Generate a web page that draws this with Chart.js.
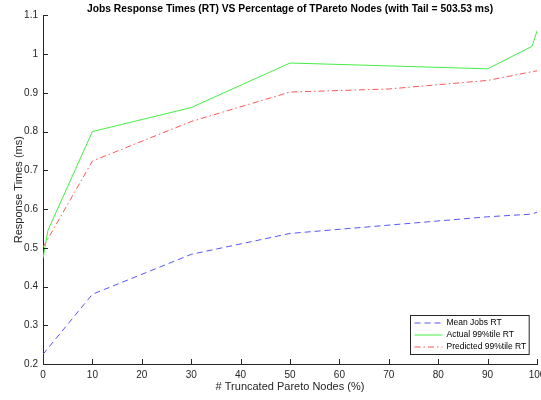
<!DOCTYPE html>
<html><head><meta charset="utf-8">
<script src="https://cdn.jsdelivr.net/npm/chart.js@4/dist/chart.umd.min.js"></script>
<style>html,body{margin:0;padding:0;background:#fff}#wrap{width:541px;height:400px;position:relative}</style>
</head><body><div id="wrap"><canvas id="c"></canvas></div>
<script>
// ---- data ----
const nodesPct      = [0,     1,     10,    30,    50,    70,    90,    99,    100];
const meanJobsRT    = [0.225, null,  0.380, 0.483, 0.537, null,  0.580, 0.587, 0.592];
const actual99RT    = [0.473, 0.545, 0.800, 0.862, 0.977, null,  0.962, 1.020, 1.060];
const predicted99RT = [0.501, null,  0.724, 0.826, 0.902, 0.910, 0.932, null,  0.957];
const seriesLabels  = ['Mean Jobs RT', 'Actual 99%tile RT', 'Predicted 99%tile RT'];
const xTicks = [0, 10, 20, 30, 40, 50, 60, 70, 80, 90, 100];
const yTicks = [0.2, 0.3, 0.4, 0.5, 0.6, 0.7, 0.8, 0.9, 1, 1.1];
const chartTitle = 'Jobs Response Times (RT) VS Percentage of TPareto Nodes (with Tail = 503.53 ms)';
const xTitle = '# Truncated Pareto Nodes (%)';
const yTitle = 'Response Times (ms)';

const FONT = '"Liberation Sans", Arial, Helvetica, sans-serif';
const AXIS = '#262626';
Chart.defaults.font.family = FONT;

function pts(arr) {
  return nodesPct.map((x, i) => ({x: x, y: arr[i]})).filter(p => p.y !== null);
}

const inwardTicks = {
  id: 'inwardTicks',
  afterDraw(chart) {
    const ctx = chart.ctx, a = chart.chartArea;
    const xs = chart.scales.x, ys = chart.scales.y;
    ctx.save();
    ctx.strokeStyle = AXIS; ctx.lineWidth = 1;
    ctx.beginPath();
    xTicks.forEach(v => { const px = Math.round(xs.getPixelForValue(v)) + 0.5; ctx.moveTo(px, a.bottom); ctx.lineTo(px, a.bottom - 5); });
    yTicks.forEach(v => { const py = Math.round(ys.getPixelForValue(v)) + 0.5; ctx.moveTo(a.left, py); ctx.lineTo(a.left + 5, py); });
    ctx.stroke();
    ctx.restore();
  }
};

const insideLegend = {
  id: 'insideLegend',
  afterDraw(chart) {
    const ctx = chart.ctx, a = chart.chartArea;
    ctx.save();
    ctx.font = '8.5px ' + FONT;
    const dsets = chart.data.datasets;
    let maxW = 0;
    dsets.forEach(d => { maxW = Math.max(maxW, ctx.measureText(d.label).width); });
    const rowH = 12, sample = 28;
    const w = 4 + sample + 4 + maxW + 3;
    const h = rowH * dsets.length + 3;
    const right = a.right - 8, bottom = a.bottom - 10;
    const left = Math.round(right - w) + 0.5, top = Math.round(bottom - h) + 0.5;
    ctx.fillStyle = '#fff';
    ctx.fillRect(left, top, w, h);
    ctx.strokeStyle = AXIS; ctx.lineWidth = 1;
    ctx.strokeRect(left, top, w, h);
    dsets.forEach((d, i) => {
      const cy = top + 7.5 + i * rowH;
      ctx.beginPath();
      ctx.setLineDash(d.borderDash || []);
      ctx.strokeStyle = d.borderColor; ctx.lineWidth = 1;
      ctx.moveTo(left + 4, cy); ctx.lineTo(left + 4 + sample, cy);
      ctx.stroke();
      ctx.setLineDash([]);
      ctx.fillStyle = '#000';
      ctx.textBaseline = 'middle'; ctx.textAlign = 'left';
      ctx.fillText(d.label, left + 4 + sample + 4, cy);
    });
    ctx.restore();
  }
};

new Chart(document.getElementById('c'), {
  type: 'line',
  data: {
    datasets: [
      {label: seriesLabels[0], data: pts(meanJobsRT), borderColor: '#5555ff', borderWidth: 1, borderDash: [6, 4], pointRadius: 0, tension: 0},
      {label: seriesLabels[1], data: pts(actual99RT), borderColor: '#44ee44', borderWidth: 1, pointRadius: 0, tension: 0},
      {label: seriesLabels[2], data: pts(predicted99RT), borderColor: '#ff5555', borderWidth: 1, borderDash: [6, 3, 1.5, 3], pointRadius: 0, tension: 0}
    ]
  },
  options: {
    responsive: true, maintainAspectRatio: false, animation: false,
    layout: {padding: {left: 0, right: 4, top: 0, bottom: 0}},
    plugins: {
      legend: {display: false},
      tooltip: {enabled: false},
      title: {display: true, text: chartTitle, fullSize: false, color: '#000',
              font: {size: 10.3, weight: 'bold', family: FONT}, padding: {top: 3, bottom: 0}}
    },
    scales: {
      x: {
        type: 'linear', min: 0, max: 100,
        afterBuildTicks: s => { s.ticks = xTicks.map(v => ({value: v})); },
        afterFit: s => { s.height = 36; s.paddingRight = 0; s.paddingLeft = 0; },
        grid: {display: false, drawTicks: false},
        border: {display: true, color: AXIS, width: 1},
        ticks: {color: AXIS, font: {size: 10}, padding: 5, maxRotation: 0, autoSkip: false,
                callback: v => String(v)},
        title: {display: true, text: xTitle, color: AXIS, font: {size: 11}, padding: {top: 0, bottom: 6}}
      },
      y: {
        type: 'linear', min: 0.2, max: 1.1,
        afterBuildTicks: s => { s.ticks = yTicks.map(v => ({value: v})); },
        afterFit: s => { s.width = 43; s.paddingTop = 0; s.paddingBottom = 0; },
        grid: {display: false, drawTicks: false},
        border: {display: true, color: AXIS, width: 1},
        ticks: {color: AXIS, font: {size: 10}, padding: 5, autoSkip: false,
                callback: v => String(Math.round(v * 10) / 10)},
        title: {display: true, text: yTitle, color: AXIS, font: {size: 11}, padding: {top: 12, bottom: 0}}
      }
    }
  },
  plugins: [inwardTicks, insideLegend]
});
</script>
</body></html>
